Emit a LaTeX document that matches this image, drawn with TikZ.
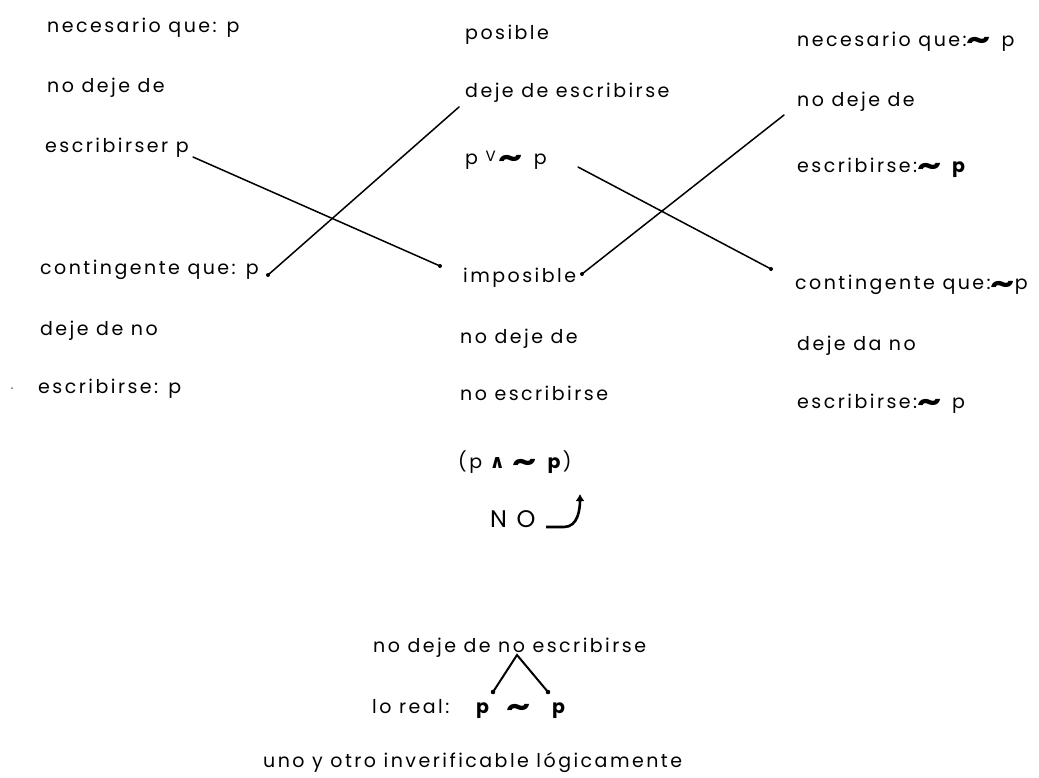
\documentclass[tikz,border=0pt]{standalone}
\usepackage{fontspec}
\usepackage{graphicx}
\setmainfont{Poppins}[LetterSpace=13]
\newfontfamily\dv{DejaVu Sans}
\usetikzlibrary{arrows.meta}
\newcommand{\tld}{\raisebox{-3pt}{\scalebox{2.0}[1.5]{\bfseries\textasciitilde}}}
\newcommand{\bp}{\textbf{p}}
\begin{document}
\begin{tikzpicture}[x=1pt,y=-1pt,
  txt/.style={anchor=base west, inner sep=0pt, font=\fontsize{19}{22}\selectfont},
  link/.style={line width=1.5pt, line cap=round}]
\useasboundingbox (0,0) rectangle (1039,778);
% left column
\node[txt] (l1) at (47,33) {necesario que: p};
\node[txt] (l2) at (47,93) {no deje de};
\node[txt] (l3) at (45,153) {escribirser p};
\node[txt] (l4) at (40,275) {contingente que: p};
\node[txt] (l5) at (40,335) {deje de no};
\node[txt] (l6) at (38,393) {escribirse: p};
\node[fill=black, circle, inner sep=0pt, minimum size=1.5pt] (dot) at (12,388) {};
% middle column
\node[txt] (m1) at (465,40) {posible};
\node[txt] (m2) at (465,98) {deje de escribirse};
\node[txt] (m3) at (465,165) {p {\fontsize{15}{18}\selectfont\raisebox{3pt}{V}}\,\tld\, p};
\node[txt] (m4) at (463,283) {imposible};
\node[txt] (m5) at (460,343) {no deje de};
\node[txt] (m6) at (460,400) {no escribirse};
\node[txt] (m7) at (458,468) {(p {\dv\bfseries ∧} \tld\, \bp)};
\node[txt, font=\fontsize{24}{26}\selectfont] (m8) at (490,527) {N\ O};
% right column
\node[txt] (r1) at (797,47) {necesario que:\tld\, p};
\node[txt] (r2) at (797,107) {no deje de};
\node[txt] (r3) at (797,173) {escribirse:\tld\, \bp};
\node[txt] (r4) at (795,290) {contingente que:\tld p};
\node[txt] (r5) at (797,350) {deje da no};
\node[txt] (r6) at (797,408) {escribirse:\tld\, p};
% bottom
\node[txt] (b1) at (373,652) {no deje de no escribirse};
\node[txt] (b2) at (372,713) {lo real:};
\node[txt] (b3) at (476,713) {\bp};
\node[txt] (b4) at (506,713) {\tld};
\node[txt] (b5) at (552,713) {\bp};
\node[txt] (b6) at (263,767) {uno y otro inverificable lógicamente};
% connector end points
\coordinate (a1) at (193,157);
\coordinate (a2) at (440,266);
\coordinate (c1) at (268,275);
\coordinate (c2) at (459,107);
\coordinate (d1) at (578,167);
\coordinate (d2) at (771,269);
\coordinate (e1) at (582,274);
\coordinate (e2) at (784,115);
\coordinate (apex) at (517,655);
\coordinate (tl) at (493,692);
\coordinate (tr) at (548,692);
\coordinate (h0) at (546,527);
\coordinate (h1) at (580,494);
\draw[link] (a1) -- (a2);
\draw[link] (c1) -- (c2);
\draw[link] (d1) -- (d2);
\draw[link] (e1) -- (e2);
\fill (a2) circle (2pt);
\fill (c1) circle (2pt);
\fill (d2) circle (2pt);
\fill (e1) circle (2pt);
\draw[line width=2pt, line cap=round] (tl) -- (apex) -- (tr);
\fill (tl) circle (2.3pt);
\fill (tr) circle (2.3pt);
\draw[line width=2.6pt, -{Latex[length=7pt,width=9pt]}] (h0) -- (564,527) to[out=0,in=-90] (h1);
\end{tikzpicture}
\end{document}
